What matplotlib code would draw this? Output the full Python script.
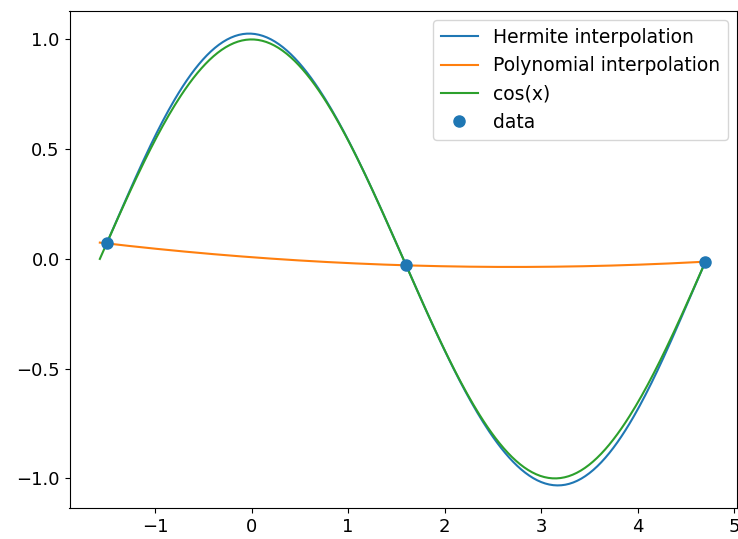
import numpy as np
import matplotlib
matplotlib.use("Agg")
import matplotlib.pyplot as plt

# sample points
x_data = [-1.5, 1.6, 4.7]
y_data = [0.0707, -0.0292, -0.0124]
dy_data = [0.9975, -0.9996, 0.9999]  # slopes at the sample points


def hermite_coeffs(xs, ys, dys):
    '''Single polynomial matching values and slopes'''
    n = 2 * len(xs)
    A = []
    b = []
    for xi, yi, di in zip(xs, ys, dys):
        A.append([xi ** k for k in range(n)])
        b.append(yi)
        A.append([k * xi ** (k - 1) if k > 0 else 0.0 for k in range(n)])
        b.append(di)
    return np.linalg.solve(np.array(A), np.array(b))


c_herm = hermite_coeffs(x_data, y_data, dy_data)
c_poly = np.polyfit(x_data, y_data, 2)

x_herm = np.linspace(x_data[0], x_data[-1], 300)
x_full = np.linspace(-np.pi / 2, 3 * np.pi / 2, 300)

plt.rcParams.update({'font.size': 13})
fig = plt.figure(figsize=(7.38, 5.39), dpi=100)
ax = fig.add_axes([69.5 / 738, 31 / 539, 667.5 / 738, 497 / 539])

ax.plot(x_herm, np.polynomial.polynomial.polyval(x_herm, c_herm), label="Hermite interpolation")
ax.plot(x_full, np.polyval(c_poly, x_full), label="Polynomial interpolation")
ax.plot(x_full, np.cos(x_full), label="cos(x)")
ax.plot(x_data, y_data, 'o', color='C0', ms=8, label="data")
ax.legend(loc='upper right', fontsize=13.5)

fig.savefig("out.png", dpi=100)
